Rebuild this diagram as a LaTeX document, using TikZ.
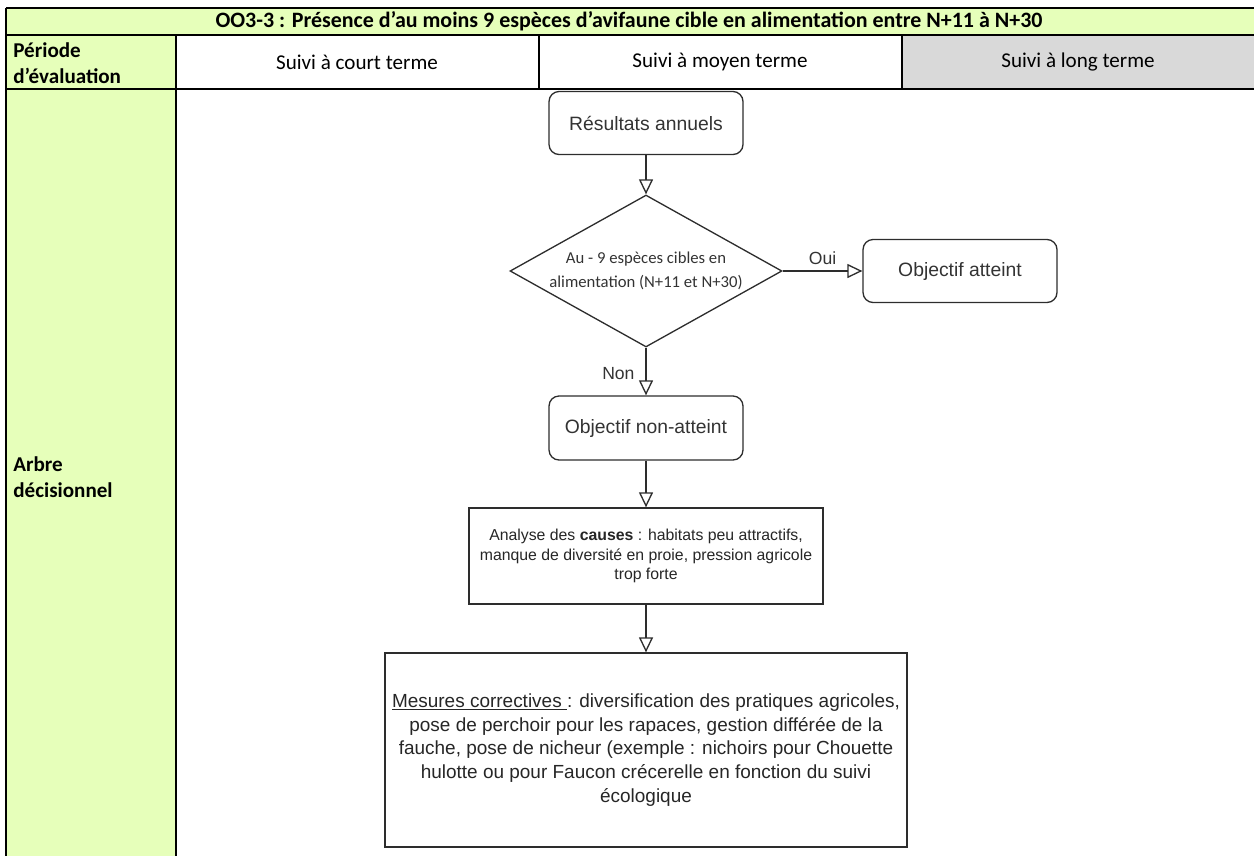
\documentclass[tikz,border=0pt]{standalone}
\usepackage{fontspec}
\setmainfont{Carlito}
\newfontfamily\arialfont{Liberation Sans}
\usetikzlibrary{shapes.geometric, arrows.meta}
\definecolor{headgreen}{RGB}{230,255,186}
\definecolor{longgray}{RGB}{217,217,217}
\definecolor{flowline}{RGB}{45,45,45}

\begin{document}
\begin{tikzpicture}[x=0.02cm, y=-0.02cm,
  grid/.style={line width=1.3pt},
  cellbold/.style={font=\bfseries\fontsize{12}{14.7}\selectfont, align=left, anchor=west, inner sep=0pt},
  cell/.style={font=\fontsize{12}{14}\selectfont},
  box/.style={draw=flowline, line width=0.75pt, rounded corners=0.2cm, minimum width=3.88cm, minimum height=1.26cm, font=\arialfont\fontsize{11}{13}\selectfont, text=black!80},
  plainbox/.style={draw=flowline, line width=0.75pt, align=center, text=black!85},
  flow/.style={draw=flowline, line width=0.75pt, -{Triangle[open, length=3mm, width=2.8mm]}},
  tag/.style={font=\arialfont\fontsize{10}{12}\selectfont, text=black!80}]
\useasboundingbox (0,0) rectangle (1254,856);

% cell fills
\fill[headgreen] (6,8) rectangle (1254,35);
\fill[headgreen] (6,35) rectangle (176,856);
\fill[longgray] (902,35) rectangle (1254,89);

% grid lines
\draw[grid] (6,8) -- (1254,8);
\draw[grid] (6,35) -- (1254,35);
\draw[grid] (6,89) -- (1254,89);
\draw[grid] (6,8) -- (6,856);
\draw[grid] (176,35) -- (176,856);
\draw[grid] (539,35) -- (539,89);
\draw[grid] (902,35) -- (902,89);

% header texts
\node[font=\bfseries\fontsize{12.5}{14}\selectfont] (title) at (629,21) {OO3-3 : Présence d’au moins 9 espèces d’avifaune cible en alimentation entre N+11 à N+30};
\node[cellbold] (periode) at (13,63) {Période\\d’évaluation};
\node[cell] (court) at (357,62) {Suivi à court terme};
\node[cell] (moyen) at (720,62) {Suivi à moyen terme};
\node[cell] (long) at (1078,62) {Suivi à long terme};
\node[cellbold] (arbre) at (13,477) {Arbre\\décisionnel};

% decision tree
\node[box] (resultats) at (646,123) {Résultats annuels};
\node[diamond, draw=flowline, line width=0.75pt, shape aspect=1.79, inner sep=0pt, minimum width=5.44cm, minimum height=3.04cm, align=center, font=\fontsize{9.5}{13.6}\selectfont, text=black!80] (especes) at (646,271) {Au - 9 espèces cibles en\\alimentation (N+11 et N+30)};
\node[box] (atteint) at (960,271) {Objectif atteint};
\node[box, minimum height=1.28cm] (nonatteint) at (646,428) {Objectif non-atteint};
\node[plainbox, minimum width=7.08cm, minimum height=1.92cm, font=\arialfont\fontsize{9}{11.3}\selectfont] (causes) at (646,556) {Analyse des \textbf{causes} : habitats peu attractifs,\\manque de diversité en proie, pression agricole\\trop forte};
\node[plainbox, minimum width=10.44cm, minimum height=3.88cm, font=\arialfont\fontsize{10.8}{13.6}\selectfont] (mesures) at (646,750) {\underline{Mesures correctives\ }: diversification des pratiques agricoles,\\pose de perchoir pour les rapaces, gestion différée de la\\fauche, pose de nicheur (exemple : nichoirs pour Chouette\\hulotte ou pour Faucon crécerelle en fonction du suivi\\écologique};

\draw[flow] (resultats) -- (especes);
\draw[flow] (especes) -- node[tag, above, pos=0.5] {Oui} (atteint);
\draw[flow] (especes) -- node[tag, left, pos=0.55, xshift=-0.1cm] {Non} (nonatteint);
\draw[flow] (nonatteint) -- (causes);
\draw[flow] (causes) -- (mesures);

\end{tikzpicture}
\end{document}
